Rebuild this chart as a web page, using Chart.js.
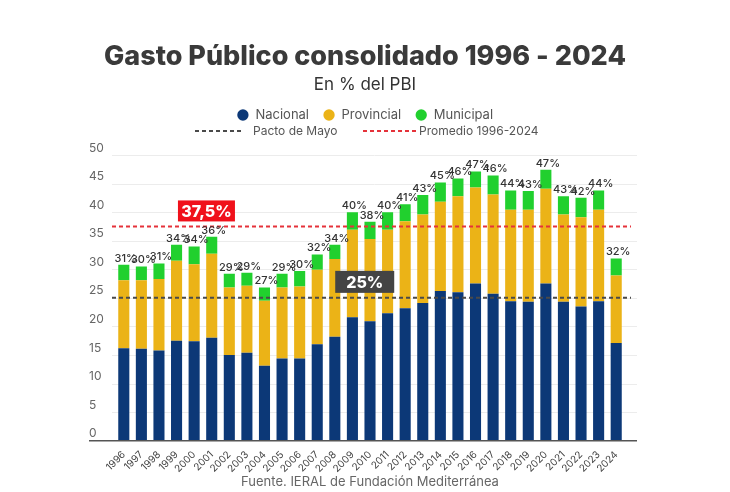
<!DOCTYPE html>
<html><head><meta charset="utf-8">
<script src="https://cdn.jsdelivr.net/npm/chart.js@4"></script>
<style>html,body{margin:0;padding:0;background:#fff}</style>
</head><body>
<canvas id="c" width="730" height="492"></canvas>
<script>
const years = ['1996','1997','1998','1999','2000','2001','2002','2003','2004','2005','2006','2007','2008','2009','2010','2011','2012','2013','2014','2015','2016','2017','2018','2019','2020','2021','2022','2023','2024'];
const nacional   = [16.2,16.1,15.8,17.5,17.4,18.0,15.0,15.4,13.1,14.4,14.4,16.9,18.2,21.6,20.9,22.3,23.2,24.1,26.2,26.0,27.5,25.7,24.4,24.3,27.5,24.3,23.5,24.4,17.1];
const provincial = [11.9,12.0,12.5,14.0,13.5,14.7,11.8,11.7,11.4,12.4,12.6,13.0,13.6,15.3,14.4,14.6,15.2,15.5,15.6,16.8,16.8,17.4,16.0,16.1,16.6,15.3,15.6,16.0,11.8];
const municipal  = [2.7,2.4,2.7,2.8,3.1,3.0,2.4,2.3,2.3,2.4,2.7,2.7,2.5,3.1,3.0,3.1,3.0,3.4,3.4,3.1,2.8,3.3,3.4,3.3,3.3,3.2,3.4,3.4,3.0];
const totalLabels = ['31%','30%','31%','34%','34%','36%','29%','29%','27%','29%','30%','32%','34%','40%','38%','40%','41%','43%','45%','46%','47%','46%','44%','43%','47%','43%','42%','44%','32%'];
const promedio = 37.5;
const pactoDeMayo = 25;
const promedioLabel = '37,5%';
const pactoLabel = '25%';
const refLegend = ['Pacto de Mayo', 'Promedio 1996-2024'];
const sourceText = 'Fuente. IERAL de Fundación Mediterránea';

const FONT = 'Inter, "Open Sans", sans-serif';
const C_NAC = '#0c3877', C_PROV = '#ebb317', C_MUN = '#21d02e';
const C_RED = '#e5323a', C_DARK = '#4a4a4a';

function dashLine(ctx, x1, x2, y, color) {
  ctx.save();
  ctx.strokeStyle = color; ctx.lineWidth = 2; ctx.setLineDash([4, 3]);
  ctx.beginPath(); ctx.moveTo(x1, y); ctx.lineTo(x2, y); ctx.stroke();
  ctx.restore();
}
function labelBox(ctx, cx, bottom, w, h, bg, text) {
  ctx.save();
  ctx.fillStyle = bg; ctx.fillRect(cx - w / 2, bottom - h, w, h);
  ctx.fillStyle = '#fff'; ctx.font = '800 16px ' + FONT;
  ctx.textAlign = 'center'; ctx.textBaseline = 'middle';
  ctx.fillText(text, cx, bottom - h / 2 + 1);
  ctx.restore();
}

const overlay = {
  id: 'overlay',
  beforeDatasetsDraw(chart) {
    const {ctx, chartArea: a} = chart, y = chart.scales.y;
    ctx.save();
    ctx.strokeStyle = '#ececec'; ctx.lineWidth = 1;
    y.ticks.forEach(t => {
      if (t.value === 0) return;
      const py = Math.round(y.getPixelForValue(t.value)) + 0.5;
      ctx.beginPath(); ctx.moveTo(a.left - 3, py); ctx.lineTo(a.right + 12, py); ctx.stroke();
    });
    ctx.restore();
  },
  afterDatasetsDraw(chart) {
    const {ctx, chartArea: a} = chart, y = chart.scales.y, x = chart.scales.x;
    ctx.save();
    ctx.strokeStyle = '#555'; ctx.lineWidth = 1.5;
    const b = y.getPixelForValue(0);
    ctx.beginPath(); ctx.moveTo(y.left, b); ctx.lineTo(a.right + 12, b); ctx.stroke();
    ctx.restore();
    dashLine(ctx, a.left - 3, a.right + 6, y.getPixelForValue(promedio), C_RED);
    dashLine(ctx, a.left - 3, a.right + 6, y.getPixelForValue(pactoDeMayo), C_DARK);
    labelBox(ctx, x.getPixelForValue(4.7), y.getPixelForValue(promedio) - 5, 57, 21, '#f0111b', promedioLabel);
    labelBox(ctx, x.getPixelForValue(13.7), y.getPixelForValue(pactoDeMayo) - 5, 59, 22, '#444444', pactoLabel);
    const meta = chart.getDatasetMeta(2);
    ctx.save();
    ctx.fillStyle = '#333'; ctx.font = '500 11px ' + FONT;
    ctx.textAlign = 'center'; ctx.textBaseline = 'bottom';
    meta.data.forEach((el, i) => {
      ctx.fillText(totalLabels[i], el.x + 2, el.y - 1);
    });
    ctx.restore();
  },
  afterDraw(chart) {
    const {ctx} = chart;
    ctx.save();
    dashLine(ctx, 195, 244, 131, C_DARK);
    dashLine(ctx, 363, 417, 131, C_RED);
    ctx.fillStyle = '#555'; ctx.font = '12px ' + FONT;
    ctx.textAlign = 'left'; ctx.textBaseline = 'middle';
    ctx.fillText(refLegend[0], 253, 131);
    ctx.fillText(refLegend[1], 419, 131);
    ctx.fillStyle = '#666'; ctx.font = '13px ' + FONT; ctx.textAlign = 'center';
    ctx.fillText(sourceText, 370, 482);
    ctx.restore();
  }
};

new Chart(document.getElementById('c'), {
  type: 'bar',
  data: {
    labels: years,
    datasets: [
      {label: 'Nacional', data: nacional, backgroundColor: C_NAC},
      {label: 'Provincial', data: provincial, backgroundColor: C_PROV},
      {label: 'Municipal', data: municipal, backgroundColor: C_MUN}
    ]
  },
  options: {
    responsive: false,
    animation: false,
    datasets: {bar: {barPercentage: 0.63, categoryPercentage: 1, borderWidth: 0}},
    layout: {padding: {left: 89, right: 89, top: 0, bottom: 9}},
    plugins: {
      title: {display: true, text: 'Gasto Público consolidado 1996 - 2024', color: '#3a3a3a',
        font: {family: FONT, size: 27, weight: '800'}, padding: {top: 40.8, bottom: 0}},
      subtitle: {display: true, text: 'En % del PBI', color: '#333',
        font: {family: FONT, size: 17, lineHeight: 1.0}, padding: {top: 3.3, bottom: 1}},
      legend: {display: true, position: 'top',
        labels: {usePointStyle: true, pointStyle: 'circle', boxWidth: 12, boxHeight: 8, padding: 14,
          color: '#555', font: {family: FONT, size: 13}}},
      tooltip: {enabled: false}
    },
    scales: {
      x: {stacked: true, grid: {display: false, drawTicks: false}, border: {display: false},
        ticks: {autoSkip: false, minRotation: 45, maxRotation: 45, color: '#444', font: {family: FONT, size: 10}, padding: 8}},
      xTop: {type: 'category', labels: years, position: 'top', display: true,
        grid: {display: false, drawTicks: false}, border: {display: false}, ticks: {display: false},
        afterFit(s) { s.height = 23.5; }},
      y: {stacked: true, min: 0, max: 50, grid: {display: false, drawTicks: false}, border: {display: false},
        ticks: {stepSize: 5, color: '#666', font: {family: FONT, size: 12}, crossAlign: 'far', labelOffset: -7, padding: 0},
        afterFit(s) { s.width = 26; }},
      yR: {type: 'linear', position: 'right', display: true,
        grid: {display: false, drawTicks: false}, border: {display: false}, ticks: {display: false},
        afterFit(s) { s.width = 16; }}
    }
  },
  plugins: [overlay]
});
</script>
</body></html>
